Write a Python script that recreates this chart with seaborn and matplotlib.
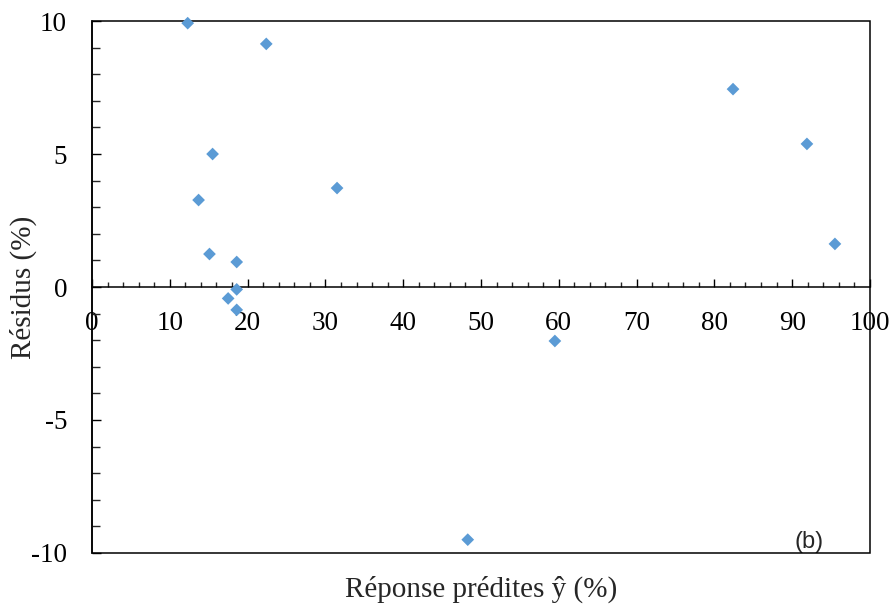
import matplotlib
matplotlib.use("Agg")
import matplotlib.pyplot as plt
import seaborn as sns
import pandas as pd
from matplotlib.patches import Rectangle
from matplotlib.ticker import MultipleLocator

predicted = [12.3, 22.4, 15.5, 13.7, 31.5, 15.1, 18.6, 18.6, 17.5, 18.6, 59.5, 48.3, 82.4, 91.9, 95.5]
residuals = [9.92, 9.14, 5.0, 3.27, 3.72, 1.24, 0.94, -0.09, -0.43, -0.86, -2.03, -9.5, 7.44, 5.38, 1.62]
x_label = "Réponse prédites ŷ (%)"
y_label = "Résidus (%)"
panel = "(b)"

df = pd.DataFrame({"pred": predicted, "res": residuals})

sns.set_style("white")
plt.rcParams["font.family"] = ["Liberation Serif", "DejaVu Serif"]
plt.rcParams["axes.unicode_minus"] = False

fig = plt.figure(figsize=(8.95, 6.06), dpi=100)
ax = fig.add_axes([0.1028, 0.0875, 0.8692, 0.8778])

sns.scatterplot(data=df, x="pred", y="res", marker="D", s=42, color="#5B9BD5",
                edgecolor="none", ax=ax, zorder=5, clip_on=False)

ax.set_xlim(0, 100)
ax.set_ylim(-10, 10)
ax.xaxis.set_major_locator(MultipleLocator(10))
ax.xaxis.set_minor_locator(MultipleLocator(2))
ax.yaxis.set_major_locator(MultipleLocator(5))
ax.yaxis.set_minor_locator(MultipleLocator(1))

for s in ["top", "right"]:
    ax.spines[s].set_visible(False)
ax.spines["bottom"].set_position(("data", 0))
for s in ["left", "bottom"]:
    ax.spines[s].set_linewidth(1.1)
    ax.spines[s].set_color("black")
ax.add_patch(Rectangle((0, 0), 1, 1, transform=ax.transAxes, fill=False,
                       edgecolor="black", linewidth=1.1, clip_on=False, zorder=4))

ax.xaxis.set_ticks_position("bottom")
ax.yaxis.set_ticks_position("left")
ax.tick_params(axis="x", which="major", direction="in", length=5.8, width=1.0,
               pad=17, labelsize=19.5, colors="black")
ax.tick_params(axis="x", which="minor", direction="in", length=3.6, width=1.0)
ax.tick_params(axis="y", which="major", direction="in", length=6.5, width=1.0,
               pad=18, labelsize=19.5, colors="black")
ax.tick_params(axis="y", which="minor", direction="in", length=5.8, width=1.0)

ax.set_xlabel("")
ax.set_ylabel(y_label, fontsize=21)
ax.yaxis.set_label_coords(-0.071, 0.5)
fig.text(0.5374, 1 - 589 / 606, x_label, fontsize=21, ha="center", va="center")
ax.text(0.922, 0.0, panel, transform=ax.transAxes, fontsize=17,
        family="Liberation Sans", ha="center", va="bottom")

fig.savefig("out.png", dpi=100)
